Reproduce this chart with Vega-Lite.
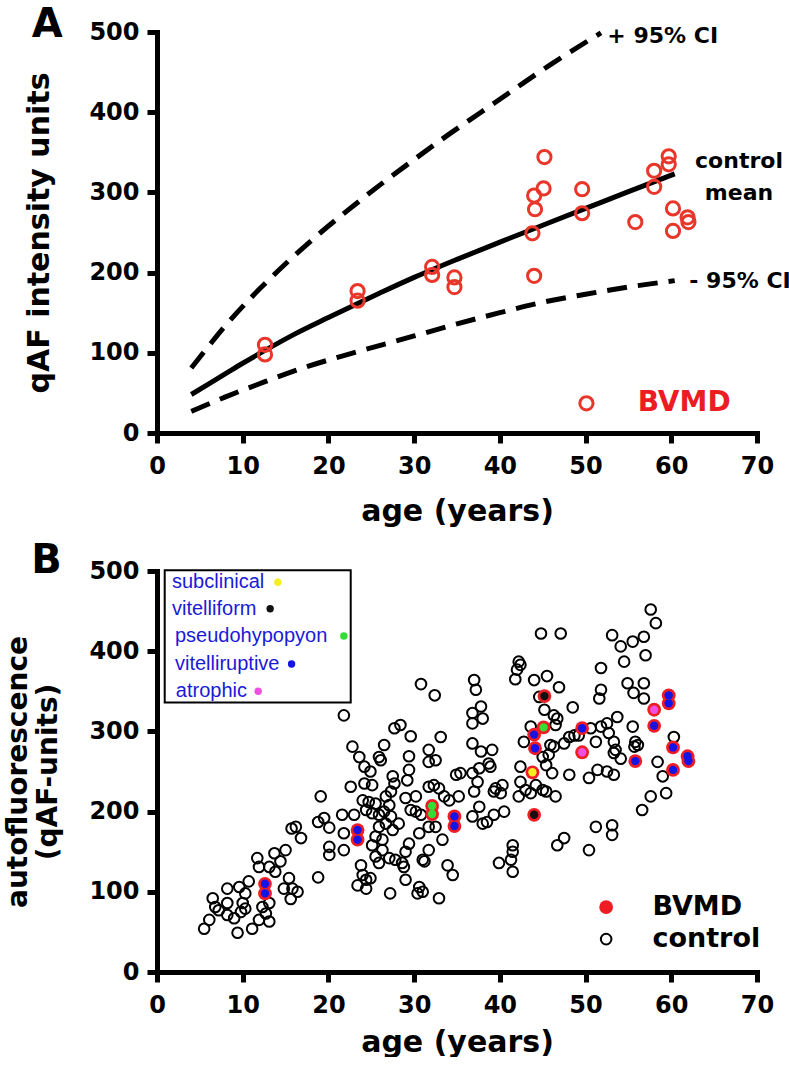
{
  "$schema": "https://vega.github.io/schema/vega-lite/v6.json",
  "padding": {"left": 4, "top": 4, "right": 0, "bottom": 0},
  "spacing": 15,
  "config": {
    "font": "DejaVu Sans",
    "view": {"stroke": null},
    "axis": {
      "domainColor": "black", "domainWidth": 5, "domainCap": "square",
      "tickColor": "black", "tickWidth": 5, "tickSize": 10,
      "labelFont": "DejaVu Sans", "labelFontSize": 24, "labelFontWeight": "bold", "labelColor": "black",
      "titleFont": "DejaVu Sans", "titleFontSize": 30, "titleFontWeight": "bold", "titleColor": "black",
      "grid": false, "labelFlush": false, "labelOverlap": false, "labelBound": false
    },
    "axisX": {"labelPadding": 11},
    "axisY": {"labelPadding": 8}
  },
  "datasets": {
    "curves": [
      {"s": "mean", "age": 4, "val": 48}, {"s": "mean", "age": 6, "val": 61}, {"s": "mean", "age": 8, "val": 74},
      {"s": "mean", "age": 10, "val": 87}, {"s": "mean", "age": 12.6, "val": 103}, {"s": "mean", "age": 16, "val": 123},
      {"s": "mean", "age": 20, "val": 144}, {"s": "mean", "age": 23.3, "val": 161}, {"s": "mean", "age": 26, "val": 174.5},
      {"s": "mean", "age": 30, "val": 194}, {"s": "mean", "age": 35, "val": 216.5}, {"s": "mean", "age": 40, "val": 238},
      {"s": "mean", "age": 45, "val": 259}, {"s": "mean", "age": 50, "val": 280}, {"s": "mean", "age": 55, "val": 301},
      {"s": "mean", "age": 60.4, "val": 323},
      {"s": "upper", "age": 4, "val": 81}, {"s": "upper", "age": 6, "val": 108}, {"s": "upper", "age": 8, "val": 134},
      {"s": "upper", "age": 10.9, "val": 168}, {"s": "upper", "age": 12.1, "val": 181}, {"s": "upper", "age": 15, "val": 211},
      {"s": "upper", "age": 19.1, "val": 250}, {"s": "upper", "age": 23, "val": 284}, {"s": "upper", "age": 26.1, "val": 310},
      {"s": "upper", "age": 30, "val": 341}, {"s": "upper", "age": 34, "val": 372}, {"s": "upper", "age": 37.8, "val": 400},
      {"s": "upper", "age": 42, "val": 431}, {"s": "upper", "age": 46, "val": 460}, {"s": "upper", "age": 51.8, "val": 499},
      {"s": "lower", "age": 4, "val": 27}, {"s": "lower", "age": 8, "val": 45}, {"s": "lower", "age": 12.6, "val": 64},
      {"s": "lower", "age": 17, "val": 81}, {"s": "lower", "age": 22.6, "val": 99}, {"s": "lower", "age": 30, "val": 121},
      {"s": "lower", "age": 35, "val": 136}, {"s": "lower", "age": 40, "val": 150}, {"s": "lower", "age": 45, "val": 163},
      {"s": "lower", "age": 50, "val": 173}, {"s": "lower", "age": 55, "val": 182}, {"s": "lower", "age": 60.4, "val": 190}
    ],
    "bvmd": [
      {"age": 12.6, "val": 110, "type": "vitelliruptive"}, {"age": 12.6, "val": 98, "type": "vitelliruptive"},
      {"age": 23.4, "val": 177, "type": "vitelliruptive"}, {"age": 23.4, "val": 165, "type": "vitelliruptive"},
      {"age": 32.1, "val": 207, "type": "pseudohypopyon"}, {"age": 32.1, "val": 197, "type": "pseudohypopyon"},
      {"age": 34.7, "val": 194, "type": "vitelliruptive"}, {"age": 34.7, "val": 182, "type": "vitelliruptive"},
      {"age": 44.0, "val": 196, "type": "vitelliform"}, {"age": 43.8, "val": 249, "type": "subclinical"},
      {"age": 44.0, "val": 296, "type": "vitelliruptive"}, {"age": 44.1, "val": 279, "type": "vitelliruptive"},
      {"age": 45.1, "val": 305, "type": "pseudohypopyon"}, {"age": 45.2, "val": 344, "type": "vitelliform"},
      {"age": 49.6, "val": 304, "type": "vitelliruptive"}, {"age": 49.6, "val": 274, "type": "atrophic"},
      {"age": 55.8, "val": 263, "type": "vitelliruptive"}, {"age": 58.0, "val": 327, "type": "atrophic"},
      {"age": 58.0, "val": 307, "type": "vitelliruptive"}, {"age": 59.7, "val": 345, "type": "vitelliruptive"},
      {"age": 59.7, "val": 335, "type": "vitelliruptive"}, {"age": 60.2, "val": 280, "type": "vitelliruptive"},
      {"age": 60.2, "val": 252, "type": "vitelliruptive"}, {"age": 61.9, "val": 269, "type": "vitelliruptive"},
      {"age": 62.0, "val": 263, "type": "vitelliruptive"}
    ],
    "control": [
      {"age": 19.1, "val": 219}, {"age": 19.5, "val": 192}, {"age": 18.8, "val": 187}, {"age": 20.1, "val": 180}, {"age": 20.1, "val": 156},
      {"age": 20.1, "val": 146}, {"age": 18.8, "val": 118}, {"age": 15.7, "val": 179}, {"age": 16.2, "val": 181}, {"age": 16.8, "val": 167},
      {"age": 15.0, "val": 152}, {"age": 13.7, "val": 148}, {"age": 11.7, "val": 142}, {"age": 14.4, "val": 138}, {"age": 13.8, "val": 125},
      {"age": 11.9, "val": 131}, {"age": 13.1, "val": 131}, {"age": 10.7, "val": 113}, {"age": 9.6, "val": 106}, {"age": 8.2, "val": 104},
      {"age": 15.4, "val": 117}, {"age": 14.8, "val": 104}, {"age": 15.8, "val": 104}, {"age": 16.4, "val": 100}, {"age": 15.6, "val": 91},
      {"age": 10.3, "val": 98}, {"age": 6.5, "val": 92}, {"age": 8.2, "val": 86}, {"age": 6.8, "val": 81}, {"age": 10.0, "val": 86},
      {"age": 10.3, "val": 79}, {"age": 9.8, "val": 75}, {"age": 13.1, "val": 86}, {"age": 12.3, "val": 81}, {"age": 12.7, "val": 73},
      {"age": 7.2, "val": 77}, {"age": 8.2, "val": 71}, {"age": 9.0, "val": 67}, {"age": 13.1, "val": 63}, {"age": 11.9, "val": 65},
      {"age": 6.1, "val": 65}, {"age": 5.5, "val": 54}, {"age": 9.4, "val": 49}, {"age": 11.1, "val": 54},
      {"age": 21.8, "val": 320}, {"age": 30.8, "val": 359}, {"age": 32.4, "val": 345}, {"age": 27.7, "val": 304}, {"age": 28.4, "val": 308},
      {"age": 29.6, "val": 294}, {"age": 33.1, "val": 293}, {"age": 22.8, "val": 281}, {"age": 23.6, "val": 268}, {"age": 26.5, "val": 283},
      {"age": 25.9, "val": 268}, {"age": 26.1, "val": 264}, {"age": 24.2, "val": 256}, {"age": 24.9, "val": 250}, {"age": 29.4, "val": 269},
      {"age": 31.7, "val": 277}, {"age": 31.7, "val": 262}, {"age": 32.5, "val": 264}, {"age": 29.4, "val": 252}, {"age": 29.2, "val": 239},
      {"age": 27.5, "val": 244}, {"age": 27.7, "val": 235}, {"age": 22.6, "val": 231}, {"age": 24.2, "val": 235}, {"age": 25.1, "val": 233},
      {"age": 27.3, "val": 225}, {"age": 26.7, "val": 219}, {"age": 24.0, "val": 214}, {"age": 24.7, "val": 212}, {"age": 25.5, "val": 210},
      {"age": 24.4, "val": 202}, {"age": 25.1, "val": 198}, {"age": 25.9, "val": 196}, {"age": 26.5, "val": 200}, {"age": 27.1, "val": 208},
      {"age": 27.3, "val": 194}, {"age": 26.7, "val": 185}, {"age": 25.9, "val": 181}, {"age": 27.5, "val": 177}, {"age": 28.2, "val": 185},
      {"age": 25.5, "val": 169}, {"age": 26.3, "val": 165}, {"age": 25.1, "val": 158}, {"age": 26.3, "val": 152}, {"age": 27.1, "val": 142},
      {"age": 27.8, "val": 140}, {"age": 28.6, "val": 136}, {"age": 25.5, "val": 144}, {"age": 25.9, "val": 136}, {"age": 29.0, "val": 150},
      {"age": 29.4, "val": 160}, {"age": 21.6, "val": 196}, {"age": 23.0, "val": 196}, {"age": 21.8, "val": 173}, {"age": 21.8, "val": 152},
      {"age": 29.6, "val": 202}, {"age": 30.2, "val": 200}, {"age": 30.8, "val": 196}, {"age": 29.0, "val": 217}, {"age": 30.2, "val": 219},
      {"age": 31.7, "val": 231}, {"age": 32.3, "val": 233}, {"age": 32.9, "val": 229}, {"age": 33.5, "val": 219}, {"age": 34.1, "val": 214},
      {"age": 35.2, "val": 219}, {"age": 34.9, "val": 246}, {"age": 35.4, "val": 248}, {"age": 30.6, "val": 173}, {"age": 31.7, "val": 181},
      {"age": 32.5, "val": 181}, {"age": 33.3, "val": 165}, {"age": 31.7, "val": 152}, {"age": 31.0, "val": 140}, {"age": 31.2, "val": 138},
      {"age": 33.9, "val": 133}, {"age": 34.5, "val": 121},
      {"age": 23.8, "val": 133}, {"age": 24.0, "val": 121}, {"age": 23.4, "val": 108}, {"age": 24.4, "val": 115}, {"age": 24.9, "val": 117},
      {"age": 24.4, "val": 104}, {"age": 27.2, "val": 98},
      {"age": 28.8, "val": 131}, {"age": 29.0, "val": 115}, {"age": 30.6, "val": 106}, {"age": 31.0, "val": 100}, {"age": 30.4, "val": 98},
      {"age": 32.9, "val": 92},
      {"age": 36.8, "val": 194}, {"age": 38.0, "val": 185}, {"age": 38.5, "val": 187}, {"age": 39.3, "val": 196}, {"age": 40.5, "val": 200},
      {"age": 37.6, "val": 206}, {"age": 39.9, "val": 136}, {"age": 41.3, "val": 140}, {"age": 41.5, "val": 150}, {"age": 41.5, "val": 158},
      {"age": 41.5, "val": 125}, {"age": 46.7, "val": 158}, {"age": 47.5, "val": 167}, {"age": 50.4, "val": 152}, {"age": 43.0, "val": 227},
      {"age": 43.6, "val": 223}, {"age": 44.2, "val": 233}, {"age": 45.0, "val": 227}, {"age": 45.4, "val": 225}, {"age": 46.5, "val": 219},
      {"age": 42.2, "val": 219}, {"age": 39.5, "val": 229},
      {"age": 44.8, "val": 422}, {"age": 47.1, "val": 422}, {"age": 42.2, "val": 387}, {"age": 42.4, "val": 383}, {"age": 42.0, "val": 377},
      {"age": 41.8, "val": 365}, {"age": 44.0, "val": 364}, {"age": 45.5, "val": 369}, {"age": 46.9, "val": 355}, {"age": 37.0, "val": 364},
      {"age": 37.2, "val": 352}, {"age": 37.8, "val": 331}, {"age": 38.0, "val": 316}, {"age": 36.8, "val": 323}, {"age": 36.8, "val": 310},
      {"age": 44.6, "val": 343}, {"age": 45.2, "val": 327}, {"age": 46.3, "val": 320}, {"age": 46.7, "val": 316}, {"age": 46.5, "val": 308},
      {"age": 48.5, "val": 330}, {"age": 36.8, "val": 285}, {"age": 37.8, "val": 275}, {"age": 39.1, "val": 277}, {"age": 36.8, "val": 248},
      {"age": 37.6, "val": 254}, {"age": 37.4, "val": 237}, {"age": 38.7, "val": 260}, {"age": 38.9, "val": 256}, {"age": 40.3, "val": 233},
      {"age": 39.3, "val": 225}, {"age": 40.1, "val": 223}, {"age": 37.0, "val": 225}, {"age": 42.4, "val": 256}, {"age": 42.8, "val": 287},
      {"age": 43.6, "val": 306}, {"age": 45.9, "val": 283}, {"age": 46.3, "val": 281}, {"age": 47.5, "val": 285}, {"age": 48.1, "val": 293},
      {"age": 48.7, "val": 295}, {"age": 49.2, "val": 295}, {"age": 45.0, "val": 268}, {"age": 45.7, "val": 271}, {"age": 45.4, "val": 258},
      {"age": 46.1, "val": 248}, {"age": 48.1, "val": 246}, {"age": 42.4, "val": 237},
      {"age": 57.6, "val": 452}, {"age": 58.2, "val": 435}, {"age": 53.1, "val": 420}, {"age": 54.1, "val": 406}, {"age": 55.5, "val": 412},
      {"age": 56.8, "val": 418}, {"age": 57.0, "val": 395}, {"age": 54.5, "val": 387}, {"age": 51.8, "val": 379}, {"age": 51.8, "val": 352},
      {"age": 51.6, "val": 341}, {"age": 54.9, "val": 360}, {"age": 56.8, "val": 360}, {"age": 55.6, "val": 348}, {"age": 56.8, "val": 341},
      {"age": 53.7, "val": 318}, {"age": 55.5, "val": 306}, {"age": 55.8, "val": 287}, {"age": 56.1, "val": 283}, {"age": 55.7, "val": 281},
      {"age": 50.6, "val": 304}, {"age": 51.2, "val": 287}, {"age": 51.8, "val": 306}, {"age": 52.5, "val": 310}, {"age": 52.7, "val": 298},
      {"age": 53.3, "val": 287}, {"age": 53.5, "val": 277}, {"age": 53.3, "val": 273}, {"age": 54.1, "val": 266}, {"age": 60.3, "val": 293},
      {"age": 58.4, "val": 262}, {"age": 59.0, "val": 244}, {"age": 51.4, "val": 252}, {"age": 52.5, "val": 250}, {"age": 53.3, "val": 246},
      {"age": 50.4, "val": 242}, {"age": 57.6, "val": 219}, {"age": 59.4, "val": 223}, {"age": 56.6, "val": 202}, {"age": 51.2, "val": 181},
      {"age": 53.1, "val": 183}, {"age": 53.1, "val": 171}
    ],
    "legendB": [
      {"type": "subclinical", "labelAge": 1.75, "dotAge": 14.1, "val": 486},
      {"type": "vitelliform", "labelAge": 1.75, "dotAge": 13.2, "val": 453},
      {"type": "pseudohypopyon", "labelAge": 2.1, "dotAge": 21.8, "val": 419},
      {"type": "vitelliruptive", "labelAge": 2.1, "dotAge": 15.7, "val": 384},
      {"type": "atrophic", "labelAge": 2.2, "dotAge": 11.8, "val": 350}
    ]
  },
  "vconcat": [
    {
      "width": 600,
      "height": 401,
      "encoding": {
        "x": {"field": "age", "type": "quantitative", "scale": {"domain": [0, 70], "nice": false, "zero": false},
              "axis": {"values": [0, 10, 20, 30, 40, 50, 60, 70], "title": "age (years)", "titlePadding": 18}},
        "y": {"field": "val", "type": "quantitative", "scale": {"domain": [0, 500], "nice": false},
              "axis": {"values": [0, 100, 200, 300, 400, 500], "title": "qAF intensity units", "titlePadding": 34}}
      },
      "layer": [
        {
          "data": {"name": "curves"},
          "transform": [{"filter": "datum.s === 'mean'"}],
          "mark": {"type": "line", "color": "black", "strokeWidth": 5, "interpolate": "monotone"},
          "encoding": {}
        },
        {
          "data": {"name": "curves"},
          "transform": [{"filter": "datum.s !== 'mean'"}],
          "mark": {"type": "line", "color": "black", "strokeWidth": 5, "strokeDash": [20, 11], "interpolate": "monotone"},
          "encoding": {"detail": {"field": "s"}}
        },
        {
          "data": {"name": "bvmd"},
          "mark": {"type": "point", "shape": "circle", "filled": false, "stroke": "#e8372a", "strokeWidth": 3, "size": 175, "opacity": 1}
        },
        {
          "data": {"values": [{"age": 50.1, "val": 37}]},
          "mark": {"type": "point", "shape": "circle", "filled": false, "stroke": "#e8372a", "strokeWidth": 3, "size": 175, "opacity": 1}
        },
        {
          "data": {"values": [
            {"t": "+ 95% CI", "age": 59.0, "val": 495},
            {"t": "control", "age": 67.9, "val": 339},
            {"t": "mean", "age": 67.9, "val": 299}
          ]},
          "mark": {"type": "text", "fontSize": 22, "fontWeight": "bold", "align": "center", "baseline": "middle", "color": "black"},
          "encoding": {"text": {"field": "t"}}
        },
        {
          "data": {"values": [{"t": "- 95% CI", "age": 62.1, "val": 190}]},
          "mark": {"type": "text", "fontSize": 22, "fontWeight": "bold", "align": "left", "baseline": "middle", "color": "black"},
          "encoding": {"text": {"field": "t"}}
        },
        {
          "data": {"values": [{"t": "BVMD", "age": 61.5, "val": 37}]},
          "mark": {"type": "text", "fontSize": 28, "fontWeight": "bold", "align": "center", "baseline": "middle", "color": "#ec1c24"},
          "encoding": {"text": {"field": "t"}}
        },
        {
          "data": {"values": [{"t": "A", "age": -12.8, "val": 494}]},
          "mark": {"type": "text", "fontSize": 40, "fontWeight": "bold", "align": "center", "baseline": "alphabetic", "color": "black"},
          "encoding": {"text": {"field": "t"}}
        }
      ]
    },
    {
      "width": 600,
      "height": 401,
      "encoding": {
        "x": {"field": "age", "type": "quantitative", "scale": {"domain": [0, 70], "nice": false, "zero": false},
              "axis": {"values": [0, 10, 20, 30, 40, 50, 60, 70], "title": "age (years)", "titlePadding": 10}},
        "y": {"field": "val", "type": "quantitative", "scale": {"domain": [0, 500], "nice": false},
              "axis": {"values": [0, 100, 200, 300, 400, 500], "title": ["autofluorescence", "(qAF-units)"], "titleFontSize": 28, "titleLineHeight": 30, "titlePadding": 26}}
      },
      "layer": [
        {
          "data": {"name": "control"},
          "mark": {"type": "point", "shape": "circle", "filled": false, "stroke": "black", "strokeWidth": 2, "size": 113, "opacity": 1}
        },
        {
          "data": {"name": "bvmd"},
          "mark": {"type": "circle", "color": "#f01c24", "size": 190, "opacity": 1}
        },
        {
          "data": {"name": "bvmd"},
          "mark": {"type": "circle", "size": 70, "opacity": 1},
          "encoding": {
            "color": {"field": "type", "type": "nominal", "legend": null,
                      "scale": {"domain": ["subclinical", "vitelliform", "pseudohypopyon", "vitelliruptive", "atrophic"],
                                "range": ["#f5ee20", "#111111", "#33dd33", "#1414e6", "#f050e0"]}}
          }
        },
        {
          "data": {"values": [{"age": 0.9, "age2": 22.6, "val": 336, "val2": 501}]},
          "mark": {"type": "rect", "fill": "white", "stroke": "black", "strokeWidth": 2},
          "encoding": {"x2": {"field": "age2"}, "y2": {"field": "val2"}}
        },
        {
          "data": {"name": "legendB"},
          "mark": {"type": "text", "font": "Liberation Sans", "fontSize": 20, "align": "left", "baseline": "middle", "color": "#1a1ad6"},
          "encoding": {"x": {"field": "labelAge", "type": "quantitative"}, "text": {"field": "type"}}
        },
        {
          "data": {"name": "legendB"},
          "mark": {"type": "circle", "size": 55, "opacity": 1},
          "encoding": {
            "x": {"field": "dotAge", "type": "quantitative"},
            "color": {"field": "type", "type": "nominal", "legend": null}
          }
        },
        {
          "data": {"values": [{"age": 52.4, "val": 81}]},
          "mark": {"type": "circle", "color": "#f01c24", "size": 190, "opacity": 1}
        },
        {
          "data": {"values": [{"age": 52.4, "val": 41}]},
          "mark": {"type": "point", "shape": "circle", "filled": false, "stroke": "black", "strokeWidth": 2, "size": 113, "opacity": 1}
        },
        {
          "data": {"values": [{"t": "BVMD", "age": 57.8, "val": 81}, {"t": "control", "age": 57.8, "val": 41}]},
          "mark": {"type": "text", "fontSize": 27, "fontWeight": "bold", "align": "left", "baseline": "middle", "color": "black"},
          "encoding": {"text": {"field": "t"}}
        },
        {
          "data": {"values": [{"t": "B", "age": -12.9, "val": 497}]},
          "mark": {"type": "text", "fontSize": 40, "fontWeight": "bold", "align": "center", "baseline": "alphabetic", "color": "black"},
          "encoding": {"text": {"field": "t"}}
        }
      ]
    }
  ]
}
